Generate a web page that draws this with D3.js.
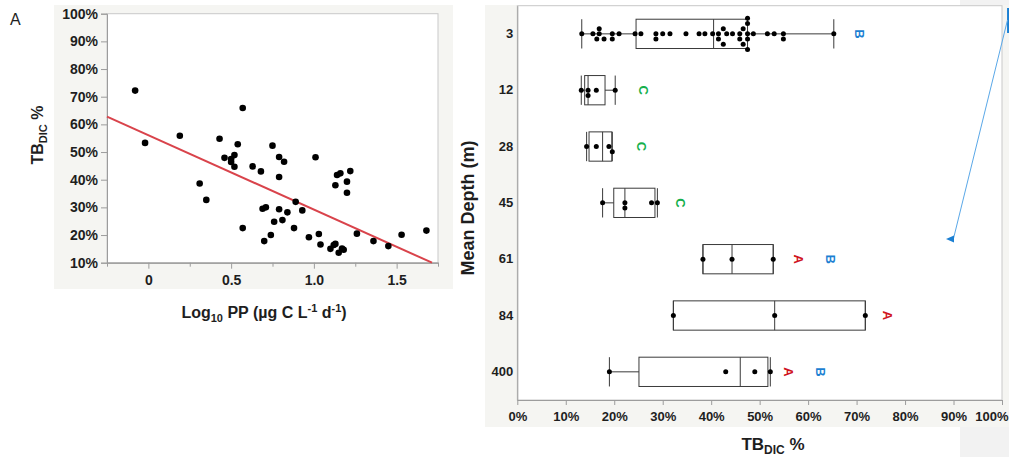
<!DOCTYPE html>
<html><head><meta charset="utf-8">
<script src="https://cdn.jsdelivr.net/npm/d3@7"></script>
<style>
html,body{margin:0;padding:0;background:#fff;}
svg{display:block;font-family:"Liberation Sans",Arial,Helvetica,sans-serif;}
</style></head><body>
<svg id="c" width="1009" height="457"></svg>
<script>
// ---------- Panel A data ----------
const logPP = [-0.08, -0.02, 0.19, 0.57, 0.43, 0.54, 0.46, 0.50, 0.52, 0.50, 0.52, 0.63, 0.68, 0.75, 0.79, 0.79,
  0.31, 0.35, 0.57, 0.69, 0.71, 0.79, 0.76, 0.74, 0.70, 0.82, 1.01, 1.22, 1.16, 1.14, 1.20, 1.13, 1.20,
  0.89, 0.84, 0.93, 0.81, 0.88, 0.97, 1.03, 1.04, 1.26, 1.36, 1.45, 1.53, 1.68, 1.10, 1.12, 1.13, 1.15, 1.17, 1.18];
const tbDIC = [72.2, 53.3, 55.9, 65.9, 54.8, 52.8, 47.9, 47.5, 48.9, 46.4, 44.7, 44.8, 43.0, 52.3, 48.2, 41.0,
  38.6, 32.7, 22.5, 29.5, 30.0, 29.3, 24.8, 20.0, 17.8, 46.5, 48.1, 43.1, 42.3, 41.7, 39.3, 38.0, 35.3,
  32.0, 28.2, 28.9, 25.4, 22.5, 19.2, 20.4, 16.6, 20.5, 17.8, 16.0, 20.1, 21.6, 15.0, 16.4, 16.8, 13.6, 15.1, 14.7];
const regIntercept = 56.1;   // % at log10 PP = 0
const regSlope = -26.9;      // % per log10 unit
const xTicksA = [0, 0.5, 1.0, 1.5];
const xTickLabelsA = ["0", "0.5", "1.0", "1.5"];
const xMinorTicksA = [-0.25, 0.25, 0.75, 1.25, 1.75];
const yTicksA = [10, 20, 30, 40, 50, 60, 70, 80, 90, 100];

// ---------- Panel B data ----------
const depths = ["3", "12", "28", "45", "61", "84", "400"];
const dots3 = [13.3, 15.6, 16.4, 16.9, 16.9, 17.9, 19.6, 19.6, 21.0, 24.3, 25.5, 28.6, 28.6, 30.0, 31.5, 34.8,
  37.5, 38.7, 40.3, 41.5, 41.5, 42.5, 42.5, 43.2, 44.4, 45.9, 45.9, 46.6, 46.6, 47.5, 47.5, 47.5, 47.5, 47.5,
  48.7, 51.6, 53.0, 54.9, 54.9, 65.3];
const dots12 = [13.2, 14.6, 14.6, 16.3, 20.2];
const dots28 = [14.3, 16.3, 18.9, 19.6];
const dots45 = [17.6, 22.2, 22.2, 27.7, 28.9];
const dots61 = [38.3, 44.3, 52.8];
const dots84 = [32.2, 53.1, 71.8];
const dots400 = [19.0, 43.0, 49.0, 52.2];
const boxLow  = [13.3, 13.2, 14.3, 17.6, 38.3, 32.2, 19.0];
const boxQ1   = [24.5, 13.9, 14.8, 19.9, 38.3, 32.2, 25.1];
const boxMed  = [40.5, 14.6, 17.6, 22.2, 44.3, 53.1, 46.0];
const boxQ3   = [47.5, 18.1, 19.5, 28.4, 52.8, 71.8, 51.7];
const boxHigh = [65.3, 20.2, 19.6, 28.9, 52.8, 71.8, 52.2];
const letterDepth = ["3", "12", "28", "45", "61", "61", "84", "400", "400"];
const letterText  = ["B", "C", "C", "C", "A", "B", "A", "A", "B"];
const letterAt    = [70.7, 26.0, 25.6, 33.7, 58.0, 64.7, 76.4, 55.9, 62.6];
const xTicksB = [0, 10, 20, 30, 40, 50, 60, 70, 80, 90, 100];

const dotsByDepth = [dots3, dots12, dots28, dots45, dots61, dots84, dots400];
const letterColor = {A: "#d0151e", B: "#1b7fd2", C: "#15b04c"};

const svg = d3.select("#c");
const ink = "#1e1e1e";

// backgrounds
svg.append("rect").attr("x", 960).attr("y", 0).attr("width", 49).attr("height", 457).attr("fill", "#f2f2f2");
svg.append("rect").attr("x", 54).attr("y", 5).attr("width", 399).attr("height", 284).attr("fill", "#f5f5f2");
svg.append("rect").attr("x", 485).attr("y", 5).attr("width", 524).attr("height", 422).attr("fill", "#f5f5f2");

// ================= Panel A =================
const xA = d3.scaleLinear().domain([-0.25, 1.75]).range([107, 438]);
const yA = d3.scaleLinear().domain([10, 100]).range([262.7, 13.7]);
svg.append("rect").attr("x", xA(-0.25)).attr("y", yA(100)).attr("width", xA(1.75) - xA(-0.25))
  .attr("height", yA(10) - yA(100)).attr("fill", "#fff").attr("stroke", "#c9c9c9");

function styleAxis(g, fs) {
  g.select(".domain").attr("stroke", "#9c9c9c");
  g.selectAll(".tick line").attr("stroke", "#9c9c9c");
  g.selectAll(".tick text").attr("fill", ink).attr("font-size", fs).attr("font-weight", "bold")
    .attr("font-family", "Liberation Sans, Arial, sans-serif");
}
const gyA = svg.append("g").attr("transform", `translate(${xA(-0.25)},0)`)
  .call(d3.axisLeft(yA).tickValues(yTicksA).tickFormat(d => d + "%").tickSize(6).tickPadding(3));
styleAxis(gyA, 14);
const gxAm = svg.append("g").attr("transform", `translate(0,${yA(10)})`)
  .call(d3.axisBottom(xA).tickValues(xMinorTicksA).tickFormat("").tickSize(4).tickSizeOuter(0));
styleAxis(gxAm, 14);
const gxA = svg.append("g").attr("transform", `translate(0,${yA(10)})`)
  .call(d3.axisBottom(xA).tickValues(xTicksA).tickFormat((d, i) => xTickLabelsA[i]).tickSize(6).tickPadding(6).tickSizeOuter(0));
styleAxis(gxA, 14);

// regression line
const xEnd = (10 - regIntercept) / regSlope;
svg.append("line").attr("x1", xA(-0.25)).attr("y1", yA(regIntercept + regSlope * -0.25))
  .attr("x2", xA(xEnd)).attr("y2", yA(10)).attr("stroke", "#d9434b").attr("stroke-width", 2);

svg.append("g").selectAll("circle").data(logPP).join("circle")
  .attr("cx", d => xA(d)).attr("cy", (d, i) => yA(tbDIC[i])).attr("r", 3.3).attr("fill", "#000");

// panel label & titles
svg.append("text").attr("x", 10).attr("y", 25).attr("font-size", 16).attr("fill", ink).text("A");
const tA = svg.append("text").attr("x", 264).attr("y", 318).attr("text-anchor", "middle")
  .attr("font-size", 16).attr("font-weight", "bold").attr("fill", ink);
tA.append("tspan").text("Log");
tA.append("tspan").attr("font-size", 11).attr("dy", 4).text("10");
tA.append("tspan").attr("dy", -4).text(" PP (µg C L");
tA.append("tspan").attr("font-size", 11).attr("dy", -6).text("-1");
tA.append("tspan").attr("dy", 6).text(" d");
tA.append("tspan").attr("font-size", 11).attr("dy", -6).text("-1");
tA.append("tspan").attr("dy", 6).text(")");

function tbTitle(x, y, rot, fs, sfs) {
  const t = svg.append("text").attr("transform", `translate(${x},${y}) rotate(${rot})`)
    .attr("text-anchor", "middle").attr("font-size", fs).attr("font-weight", "bold").attr("fill", ink);
  t.append("tspan").text("TB");
  t.append("tspan").attr("font-size", sfs).attr("dy", 4).text("DIC");
  t.append("tspan").attr("dy", -4).text(" %");
}
tbTitle(43, 135, -90, 16, 11);

// ================= Panel B =================
const xB = d3.scaleLinear().domain([0, 100]).range([517.3, 1002]);
const yB = d3.scaleBand().domain(depths).range([5.7, 400]);
svg.append("rect").attr("x", xB(0)).attr("y", 5.7).attr("width", xB(100) - xB(0)).attr("height", 400 - 5.7)
  .attr("fill", "#fff").attr("stroke", "#c9c9c9");

const gxB = svg.append("g").attr("transform", "translate(0,400)")
  .call(d3.axisBottom(xB).tickValues(xTicksB).tickFormat(d => d + "%").tickSize(5).tickPadding(7).tickSizeOuter(0));
styleAxis(gxB, 13);
gxB.selectAll(".tick text").filter(d => d === 100).attr("text-anchor", "end").attr("dx", 6);
const gyB = svg.append("g").attr("transform", `translate(${xB(0)},0)`)
  .call(d3.axisLeft(yB).tickSize(0).tickPadding(4));
styleAxis(gyB, 13);

const boxH = yB.bandwidth() * 0.52;
const gb = svg.append("g").attr("stroke", "#3a3a3a").attr("stroke-width", 1).attr("fill", "none");
depths.forEach((dp, i) => {
  const cy = yB(dp) + yB.bandwidth() / 2;
  const top = cy - boxH / 2, bot = cy + boxH / 2;
  gb.append("line").attr("x1", xB(boxLow[i])).attr("x2", xB(boxQ1[i])).attr("y1", cy).attr("y2", cy);
  gb.append("line").attr("x1", xB(boxQ3[i])).attr("x2", xB(boxHigh[i])).attr("y1", cy).attr("y2", cy);
  gb.append("line").attr("x1", xB(boxLow[i])).attr("x2", xB(boxLow[i])).attr("y1", top).attr("y2", bot);
  gb.append("line").attr("x1", xB(boxHigh[i])).attr("x2", xB(boxHigh[i])).attr("y1", top).attr("y2", bot);
  gb.append("rect").attr("x", xB(boxQ1[i])).attr("y", top).attr("width", xB(boxQ3[i]) - xB(boxQ1[i])).attr("height", boxH);
  gb.append("line").attr("x1", xB(boxMed[i])).attr("x2", xB(boxMed[i])).attr("y1", top).attr("y2", bot);
});

// dot stacks (simple beeswarm)
const dotR = 2.5, dotD = 5.2;
depths.forEach((dp, i) => {
  const cy = yB(dp) + yB.bandwidth() / 2;
  const placed = [];
  dotsByDepth[i].slice().sort((a, b) => a - b).forEach(v => {
    const x = xB(v);
    for (let k = 0; k < 40; k++) {
      const off = k === 0 ? 0 : (k % 2 ? 1 : -1) * Math.ceil(k / 2) * dotD;
      const y = cy + off;
      if (placed.every(p => (p[0] - x) ** 2 + (p[1] - y) ** 2 >= dotD * dotD * 0.95)) { placed.push([x, y]); break; }
    }
  });
  svg.append("g").selectAll("circle").data(placed).join("circle")
    .attr("cx", d => d[0]).attr("cy", d => d[1]).attr("r", dotR).attr("fill", "#000");
});

// significance letters (rotated)
letterText.forEach((t, i) => {
  const x = xB(letterAt[i]), y = yB(letterDepth[i]) + yB.bandwidth() / 2;
  svg.append("text").attr("transform", `translate(${x},${y}) rotate(90)`)
    .attr("text-anchor", "middle").attr("dy", "0.35em").attr("font-size", 13).attr("font-weight", "bold")
    .attr("fill", letterColor[t]).text(t);
});

// titles
svg.append("text").attr("transform", "translate(474,208) rotate(-90)").attr("text-anchor", "middle")
  .attr("font-size", 18).attr("font-weight", "bold").attr("fill", ink).text("Mean Depth (m)");
tbTitle(773, 450, 0, 17, 12);

// annotation arrow
svg.append("line").attr("x1", 1008.3).attr("y1", 8).attr("x2", 1008.3).attr("y2", 33)
  .attr("stroke", "#1b7fd2").attr("stroke-width", 2.5);
svg.append("line").attr("x1", 1007.5).attr("y1", 20).attr("x2", 953.5).attr("y2", 238.5)
  .attr("stroke", "#5aa8e8").attr("stroke-width", 1);
svg.append("path").attr("d", d3.line()([[946, 239], [954, 235.5], [954, 242.5]])).attr("fill", "#1b7fd2");
</script>
</body></html>
